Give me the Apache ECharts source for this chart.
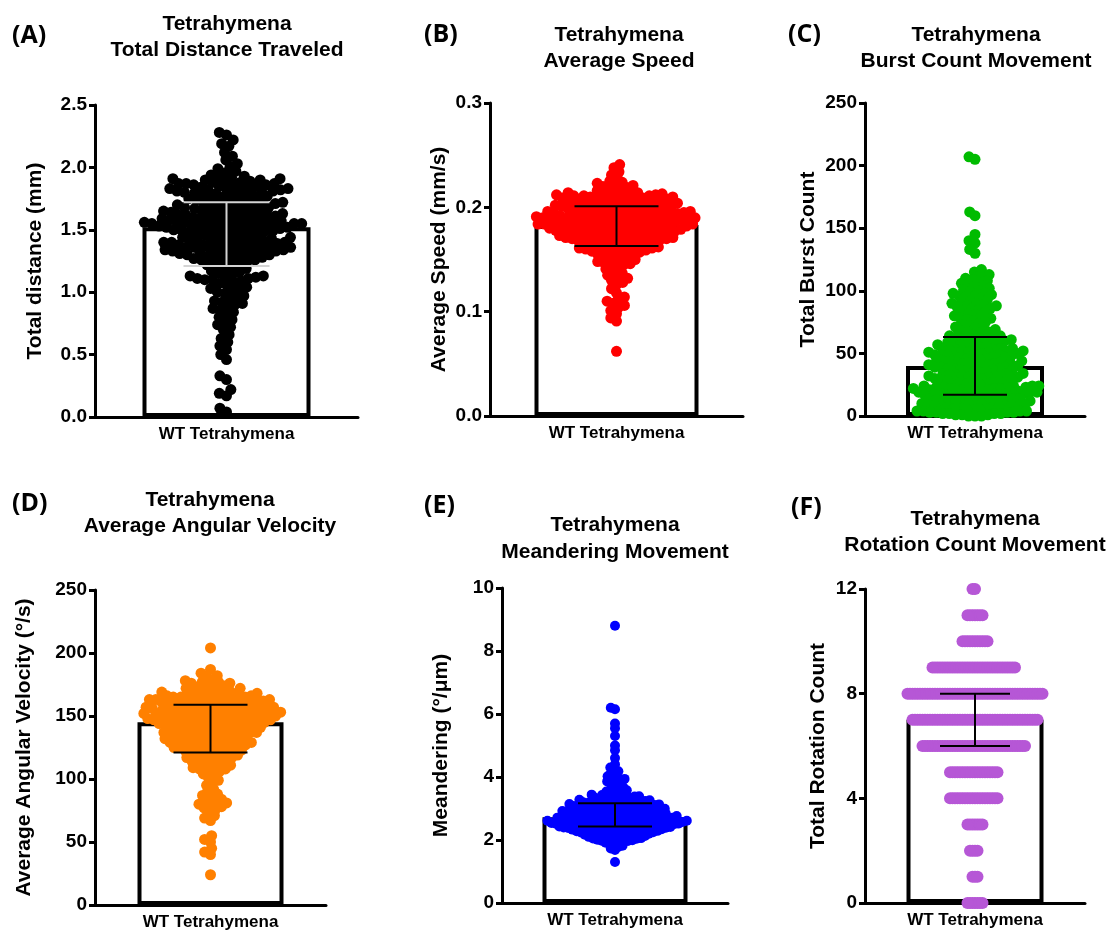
<!DOCTYPE html>
<html><head><meta charset="utf-8">
<script src="https://cdn.jsdelivr.net/npm/echarts@6/dist/echarts.min.js"></script>
<style>html,body{margin:0;padding:0;background:#fff}#chart{width:1118px;height:931px}</style>
</head><body><div id="chart"></div><script>
// ---------------- DATA ----------------
const category = ['WT Tetrahymena'];
const panelLetters = ['(A)', '(B)', '(C)', '(D)', '(E)', '(F)'];
const panelTitles = [
  'Tetrahymena\nTotal Distance Traveled',
  'Tetrahymena\nAverage Speed',
  'Tetrahymena\nBurst Count Movement',
  'Tetrahymena\nAverage Angular Velocity',
  'Tetrahymena\nMeandering Movement',
  'Tetrahymena\nRotation Count Movement'
];
const axisNames = ['Total distance (mm)', 'Average Speed (mm/s)', 'Total Burst Count',
  'Average Angular Velocity (°/s)', 'Meandering (°/μm)', 'Total Rotation Count'];
const axisMax = [2.5, 0.3, 250, 250, 10, 12];
const axisStep = [0.5, 0.1, 50, 50, 2, 4];
const tickDecimals = [1, 1, 0, 0, 0, 0];
const barHeights = [1.52, 0.183, 40, 145, 2.72, 7];
const errLow = [1.21, 0.163, 17, 121, 2.43, 6];
const errHigh = [1.72, 0.201, 63, 159, 3.17, 8];

const distanceValues = [2.28,2.26,
2.22,2.19,2.17,
2.12,2.09,2.06,
2.03,2.01,1.99,1.97,1.96,
1.94,1.93,1.93,1.92,1.91,1.91,1.90,1.90,1.89,1.89,1.88,1.88,1.87,1.87,1.87,1.86,1.86,1.86,1.85,1.85,
1.84,1.84,1.83,1.83,1.83,1.82,1.82,1.82,1.81,1.81,1.81,1.80,1.80,1.80,1.79,1.79,1.78,1.78,1.77,1.77,1.76,1.76,1.75,1.75,
1.74,1.74,1.73,1.73,1.72,1.72,1.72,1.71,1.71,1.70,1.70,1.70,1.69,1.69,1.68,1.68,1.67,1.67,1.66,1.66,1.66,1.65,1.65,1.65,
1.64,1.64,1.63,1.63,1.63,1.62,1.62,1.62,1.61,1.61,1.61,1.60,1.60,1.60,1.59,1.59,1.59,1.58,1.58,1.58,1.57,1.57,1.57,1.56,1.56,1.56,1.55,
1.55,1.55,1.55,1.55,1.55,1.54,1.54,1.54,1.54,1.53,1.53,1.53,1.52,1.52,1.52,1.51,1.51,1.51,1.50,1.50,1.50,1.49,1.49,1.49,1.48,1.48,1.48,1.47,1.47,1.46,1.46,1.45,1.45,
1.44,1.44,1.43,1.43,1.43,1.42,1.42,1.42,1.41,1.41,1.41,1.40,1.40,1.40,1.39,1.39,1.39,1.38,1.38,1.38,1.37,1.37,1.37,1.36,1.36,1.36,1.35,1.35,1.35,
1.34,1.34,1.34,1.33,1.33,1.33,1.32,1.32,1.32,1.31,1.31,1.31,1.30,1.30,1.29,1.29,1.28,1.28,1.27,1.27,1.26,1.26,1.25,1.25,
1.24,1.23,1.22,1.21,1.20,1.19,1.18,1.17,1.16,
1.15,1.14,1.13,1.13,1.12,1.12,1.11,1.11,1.10,1.10,1.09,1.08,1.07,1.06,
1.04,1.03,1.02,1.01,1.00,0.99,0.97,0.96,
0.94,0.93,0.92,0.91,0.90,0.88,0.87,0.86,
0.84,0.82,0.80,0.78,0.76,
0.74,0.72,0.70,
0.66,0.63,0.60,
0.57,0.54,0.50,0.46,
0.33,0.30,
0.22,0.19,0.17,
0.07,0.04];

const speedValues = [0.241,0.238,
0.234,0.231,0.228,
0.225,0.224,0.223,0.222,0.221,0.220,0.219,0.218,0.217,0.216,0.215,
0.214,0.214,0.213,0.213,0.213,0.212,0.212,0.212,0.211,0.211,0.211,0.210,0.210,0.210,0.209,0.209,0.209,0.208,0.208,0.208,0.207,0.207,0.207,0.206,0.206,0.206,0.205,0.205,
0.204,0.204,0.204,0.203,0.203,0.203,0.202,0.202,0.202,0.201,0.201,0.201,0.200,0.200,0.200,0.200,0.199,0.199,0.199,0.198,0.198,0.198,0.197,0.197,0.197,0.196,0.196,0.196,0.195,0.195,0.195,
0.194,0.194,0.194,0.194,0.193,0.193,0.193,0.193,0.192,0.192,0.192,0.192,0.191,0.191,0.191,0.191,0.190,0.190,0.190,0.190,0.189,0.189,0.189,0.189,0.188,0.188,0.188,0.188,0.187,0.187,0.187,0.187,0.186,0.186,0.186,0.186,0.185,0.185,0.185,
0.184,0.184,0.184,0.184,0.183,0.183,0.183,0.183,0.182,0.182,0.182,0.182,0.181,0.181,0.181,0.180,0.180,0.180,0.180,0.179,0.179,0.179,0.178,0.178,0.178,0.178,0.177,0.177,0.177,0.176,0.176,0.176,0.175,0.175,0.175,
0.174,0.174,0.174,0.173,0.173,0.173,0.172,0.172,0.172,0.171,0.171,0.171,0.170,0.170,0.170,0.169,0.169,0.169,0.168,0.168,0.168,0.167,0.167,0.166,0.166,0.165,0.165,
0.164,0.164,0.163,0.163,0.162,0.162,0.161,0.161,0.160,0.160,0.159,0.159,0.158,0.158,0.157,0.157,0.156,0.155,
0.154,0.153,0.152,0.151,0.150,0.149,0.148,0.147,0.146,0.145,0.145,
0.143,0.141,0.139,0.137,0.135,
0.134,0.132,0.130,0.128,0.126,
0.122,0.118,
0.114,0.112,0.110,0.108,0.106,
0.104,0.101,0.098,
0.094,0.091,
0.062];

const burstValues = [207,205,163,160,145,140,138,133,130,117,
115,113,112,110,109,108,107,106,105,
104,103,102,101,100,99,98,98,97,96,96,95,
94,93,92,91,90,90,89,88,88,87,86,86,85,
84,83,82,81,80,79,78,78,77,76,75,
74,73,72,71,70,70,69,68,67,67,66,65,
64,64,63,63,62,62,61,61,60,60,60,59,59,58,58,57,57,56,56,55,55,
54,54,54,53,53,53,52,52,52,51,51,51,50,50,50,49,49,49,48,48,48,47,47,47,46,46,45,45,
44,44,44,43,43,43,42,42,42,41,41,41,40,40,40,39,39,39,38,38,38,37,37,37,36,36,35,35,
34,34,34,33,33,33,32,32,32,31,31,31,30,30,30,29,29,29,28,28,28,27,27,26,26,25,25,
24,24,24,24,23,23,23,23,22,22,22,22,21,21,21,21,20,20,20,20,19,19,19,19,18,18,18,18,17,17,17,17,16,16,16,15,15,15,
14,14,14,13,13,13,12,12,12,12,11,11,11,10,10,10,10,9,9,9,8,8,8,8,7,7,7,6,6,6,5,5,5,
4,4,4,4,3,3,3,3,2,2,2,2,1,1,1,0,0,0];

const angularValues = [204,187,184,182,181,179,178,
177,177,176,176,175,174,173,173,
172,172,171,171,170,170,169,169,168,168,167,
167,167,166,166,166,165,165,165,165,164,164,164,163,163,163,163,
162,162,162,162,161,161,161,161,160,160,160,160,159,159,159,158,158,158,
157,157,157,157,156,156,156,156,155,155,155,155,155,154,154,154,154,153,153,153,153,
152,152,152,152,151,151,151,151,150,150,150,150,150,149,149,149,149,148,148,148,148,
147,147,147,147,146,146,146,146,145,145,145,145,144,144,144,144,143,143,143,
142,142,142,141,141,141,140,140,140,139,139,139,138,138,138,
137,137,137,136,136,136,135,135,135,134,134,134,133,133,
132,132,132,131,131,131,130,130,130,129,129,129,128,128,
127,127,127,126,126,125,125,125,124,124,123,123,
122,122,121,121,120,120,119,118,118,
117,117,116,116,115,114,113,113,
112,111,110,110,109,108,108,
107,106,104,103,101,99,97,95,92,90,88,87,86,84,83,82,81,80,79,78,77,76,74,71,69,67,55,52,50,45,42,40,24];

const meanderValues = [8.8,6.2,6.15,5.7,5.55,5.3,5.0,4.85,4.6,4.4,4.3,
4.22,4.18,4.12,4.08,4.02,3.98,3.94,3.92,3.89,3.86,3.82,3.78,3.73,3.68,
3.64,3.62,3.58,3.56,3.54,3.52,3.48,3.46,
3.44,3.43,3.42,3.41,3.39,3.38,3.37,3.36,
3.34,3.33,3.32,3.31,3.29,3.28,3.27,3.26,
3.24,3.24,3.23,3.22,3.21,3.20,3.20,3.19,3.18,3.17,3.16,3.15,
3.14,3.14,3.13,3.13,3.12,3.11,3.10,3.10,3.09,3.08,3.07,3.07,3.06,3.05,
3.04,3.04,3.03,3.03,3.02,3.02,3.01,3.00,3.00,2.99,2.98,2.98,2.97,2.96,2.96,2.95,
2.94,2.94,2.93,2.93,2.92,2.92,2.91,2.90,2.90,2.89,2.88,2.88,2.87,2.86,2.86,2.85,
2.84,2.84,2.83,2.83,2.82,2.82,2.81,2.81,2.80,2.80,2.79,2.79,2.78,2.78,2.77,2.76,2.76,2.75,
2.74,2.74,2.73,2.73,2.72,2.72,2.71,2.71,2.70,2.70,2.70,2.69,2.69,2.68,2.68,2.67,2.67,2.66,2.66,2.65,
2.64,2.64,2.63,2.63,2.62,2.62,2.61,2.61,2.60,2.60,2.60,2.59,2.59,2.58,2.58,2.57,2.57,2.56,2.56,2.55,
2.54,2.54,2.54,2.53,2.53,2.52,2.52,2.52,2.51,2.51,2.50,2.50,2.50,2.49,2.49,2.48,2.48,2.48,2.47,2.47,2.46,2.45,
2.44,2.44,2.43,2.43,2.42,2.42,2.41,2.41,2.40,2.40,2.39,2.39,2.38,2.38,2.37,2.37,2.36,2.36,2.35,2.35,
2.34,2.34,2.33,2.32,2.32,2.31,2.30,2.30,2.29,2.28,2.28,2.27,2.26,2.26,2.25,2.25,
2.24,2.23,2.22,2.21,2.20,2.20,2.19,2.18,2.17,2.16,2.16,2.15,
2.14,2.13,2.12,2.11,2.10,2.09,2.08,2.07,2.06,2.05,
2.04,2.03,2.01,2.00,1.99,1.98,1.97,1.96,
1.93,1.91,1.89,1.86,1.82,1.78,1.73,1.68,1.3];

const rotationLevels = [0, 1, 2, 3, 4, 5, 6, 7, 8, 9, 10, 11, 12];
const rotationCounts = [7, 3, 4, 7, 20, 20, 42, 51, 55, 34, 11, 7, 2];

// ---------------- STYLE / LAYOUT ----------------
const layout = [
  {grid:{left:95,top:105,width:263,height:312}, barW:168, capHalf:43, dot:11, gap:7.6, color:'#000000', errColor:'#d4d4d4', nameGap:49, letter:[12,36], title:[227,37]},
  {grid:{left:490,top:103,width:253,height:313}, barW:164, capHalf:42, dot:11, gap:6.5, color:'#ff0000', errColor:'#000000', nameGap:40, letter:[424,35], title:[619,48]},
  {grid:{left:865,top:103,width:220,height:313}, barW:138, capHalf:32, dot:11, gap:6.5, color:'#00bb00', errColor:'#000000', nameGap:46, letter:[788,35], title:[976,48]},
  {grid:{left:95,top:590,width:231,height:315}, barW:146, capHalf:37, dot:11, gap:6.4, color:'#ff8000', errColor:'#000000', nameGap:60, letter:[12,504], title:[210,513]},
  {grid:{left:502,top:588,width:226,height:315}, barW:145, capHalf:37, dot:10, gap:4.5, color:'#0000ff', errColor:'#000000', nameGap:50, letter:[424,506], title:[615,538.5]},
  {grid:{left:865,top:589,width:220,height:314}, barW:137, capHalf:35, dot:12, gap:2.5, color:'#b657d6', errColor:'#000000', nameGap:36, letter:[791,508], title:[975,532]}
];

const rotationValues = [];
rotationLevels.forEach((lv, i) => { for (let k = 0; k < rotationCounts[i]; k++) rotationValues.push(lv); });
const panelValues = [distanceValues, speedValues, burstValues, angularValues, meanderValues, rotationValues];

// beeswarm: place each point as close to the centre as possible without overlap (pixel space)
function swarm(values, pxPerUnit, d) {
  const pts = values.map(v => ({v: v, y: v * pxPerUnit, x: 0}));
  const order = pts.slice().sort((a, b) => a.y - b.y);
  const placed = [];
  order.forEach(p => {
    const iv = [];
    placed.forEach(q => {
      const dy = Math.abs(q.y - p.y);
      if (dy < d) { const dx = Math.sqrt(d * d - dy * dy); iv.push([q.x - dx, q.x + dx]); }
    });
    const cands = [0];
    iv.forEach(r => { cands.push(r[0], r[1]); });
    cands.sort((a, b) => Math.abs(a) - Math.abs(b));
    for (const c of cands) {
      if (iv.every(r => c <= r[0] + 1e-9 || c >= r[1] - 1e-9)) { p.x = c; break; }
    }
    placed.push(p);
  });
  return pts;
}

const FONT = '"Liberation Sans", Arial, sans-serif';
const grids = [], xAxes = [], yAxes = [], series = [], graphics = [];

layout.forEach((L, i) => {
  grids.push(Object.assign({containLabel:false}, L.grid));
  xAxes.push({type:'category', gridIndex:i, data:category,
    axisLine:{onZero:false, lineStyle:{color:'#000', width:3}},
    axisTick:{alignWithLabel:true, length:6, lineStyle:{color:'#000', width:3}},
    axisLabel:{color:'#000', fontSize:17, fontWeight:'bold', fontFamily:FONT, margin:9},
    splitLine:{show:false}});
  xAxes.push({type:'value', gridIndex:i, min:-1, max:1, show:false});
  const dec = tickDecimals[i];
  yAxes.push({type:'value', gridIndex:i, min:0, max:axisMax[i], interval:axisStep[i],
    axisLine:{show:true, onZero:false, lineStyle:{color:'#000', width:3}},
    axisTick:{show:true, length:6, lineStyle:{color:'#000', width:3}},
    splitLine:{show:false},
    axisLabel:{color:'#000', fontSize:19, fontWeight:'bold', fontFamily:FONT, margin:8,
      formatter: v => Number(v).toFixed(dec)},
    name:axisNames[i], nameLocation:'middle', nameGap:L.nameGap,
    nameTextStyle:{color:'#000', fontSize:21, fontWeight:'bold', fontFamily:FONT}});

  series.push({type:'bar', xAxisIndex:2*i, yAxisIndex:i, data:[barHeights[i]], barWidth:L.barW,
    itemStyle:{color:'#ffffff', borderColor:'#000000', borderWidth:4}, z:1, silent:true});

  const ppu = L.grid.height / axisMax[i];
  const half = L.grid.width / 2;
  const pts = swarm(panelValues[i], ppu, L.gap).map(p => [p.x / half, p.v]);
  series.push({type:'scatter', xAxisIndex:2*i+1, yAxisIndex:i, data:pts, symbol:'circle',
    symbolSize:L.dot, itemStyle:{color:L.color, opacity:1}, z:2, silent:true, clip:false});

  series.push({type:'custom', xAxisIndex:2*i+1, yAxisIndex:i, z:3, silent:true,
    data:[[0, errLow[i], errHigh[i]]], encode:{x:0, y:[1,2]},
    renderItem: (params, api) => {
      const lo = api.coord([api.value(0), api.value(1)]);
      const hi = api.coord([api.value(0), api.value(2)]);
      const st = {stroke:L.errColor, lineWidth:2};
      return {type:'group', children:[
        {type:'line', shape:{x1:lo[0], y1:lo[1], x2:hi[0], y2:hi[1]}, style:st},
        {type:'line', shape:{x1:lo[0]-L.capHalf, y1:lo[1], x2:lo[0]+L.capHalf, y2:lo[1]}, style:st},
        {type:'line', shape:{x1:hi[0]-L.capHalf, y1:hi[1], x2:hi[0]+L.capHalf, y2:hi[1]}, style:st}
      ]};
    }});

  graphics.push({type:'text', x:L.letter[0], y:L.letter[1], silent:true,
    style:{text:panelLetters[i], fill:'#000', font:'bold 25px "Open Sans", Lato, sans-serif',
      textAlign:'left', textVerticalAlign:'middle'}});
  graphics.push({type:'text', x:L.title[0], y:L.title[1], silent:true,
    style:{text:panelTitles[i], fill:'#000', font:'bold 21px ' + FONT, lineHeight:26.5,
      textAlign:'center', textVerticalAlign:'middle'}});
});

const chart = echarts.init(document.getElementById('chart'), null, {renderer:'canvas'});
chart.setOption({
  backgroundColor:'#ffffff', animation:false,
  grid:grids, xAxis:xAxes, yAxis:yAxes, series:series, graphic:graphics
});
</script></body></html>
